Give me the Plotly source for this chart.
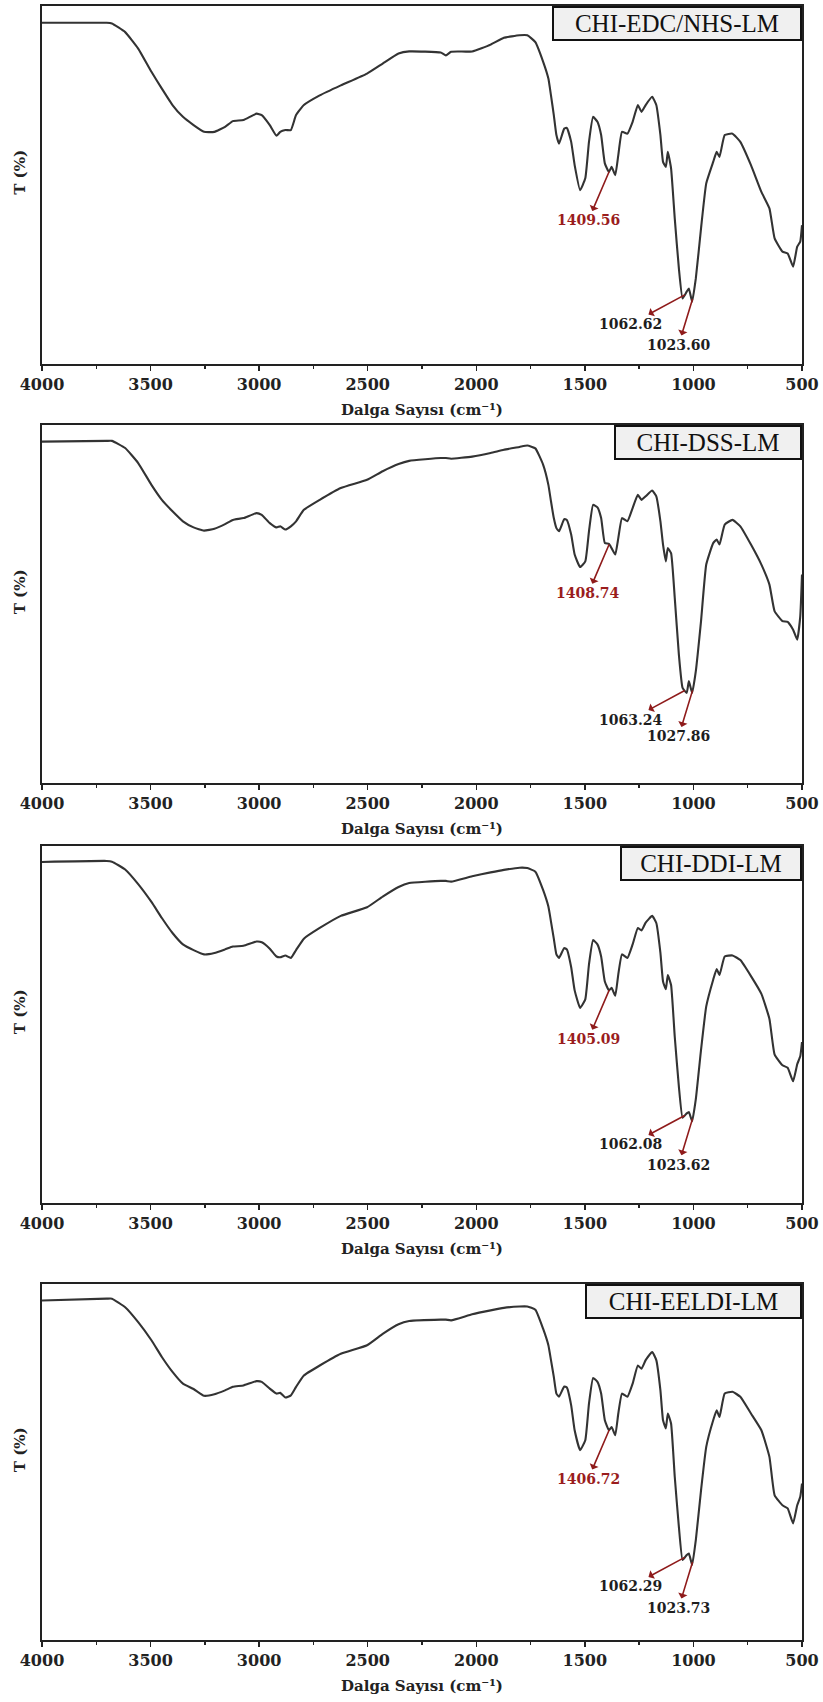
import numpy as np
import plotly.graph_objects as go

# ---------------- data ----------------
wavenumber = [4000, 3702, 3678, 3617, 3557, 3496, 3448, 3399, 3351, 3302, 3254, 3206, 3157, 3121,
              3072, 3012, 2988, 2951, 2920, 2903, 2879, 2854, 2830, 2794, 2721, 2624, 2503, 2431,
              2358, 2309, 2164, 2140, 2116, 2019, 1934, 1873, 1801, 1765, 1728, 1692, 1668, 1656,
              1643, 1631, 1619, 1595, 1583, 1563, 1547, 1522, 1498, 1481, 1462, 1442, 1425, 1408,
              1389, 1377, 1360, 1346, 1329, 1304, 1280, 1256, 1239, 1220, 1190, 1171, 1152, 1140,
              1127, 1118, 1103, 1086, 1067, 1050, 1031, 1021, 1006, 989, 965, 941, 909, 893, 880,
              856, 820, 784, 735, 687, 650, 626, 590, 566, 541, 522, 508, 500]

t_edc_nhs = [95.3, 95.3, 95.1, 92.7, 88.1, 81.6, 76.9, 72.3, 69.0, 66.7, 64.8, 64.8, 66.2, 67.8,
             68.1, 69.9, 69.5, 66.7, 63.7, 64.8, 65.3, 65.3, 69.5, 72.3, 75.0, 77.8, 81.1, 83.9,
             86.7, 87.3, 87.0, 86.2, 87.2, 87.3, 89.2, 91.1, 91.8, 91.8, 89.9, 84.4, 79.7, 75.0,
             69.5, 63.9, 61.5, 65.7, 65.9, 62.0, 55.5, 48.5, 51.8, 62.0, 69.0, 67.6, 63.9, 56.0,
             53.6, 55.0, 52.7, 58.3, 64.8, 64.3, 67.6, 72.3, 70.4, 72.3, 74.6, 72.3, 63.9, 56.4,
             55.0, 59.2, 54.6, 40.6, 26.6, 18.2, 20.1, 21.0, 17.3, 23.8, 37.8, 50.4, 56.4, 59.2,
             57.8, 63.9, 64.3, 62.0, 55.5, 48.0, 43.4, 35.0, 31.3, 30.8, 27.1, 32.7, 34.1, 38.7]

t_dss = [95.5, 95.7, 95.7, 93.7, 89.5, 83.4, 79.2, 76.0, 73.2, 71.5, 70.6, 71.1, 72.4, 73.6,
         74.1, 75.5, 75.0, 72.7, 71.5, 71.8, 70.9, 71.8, 73.2, 76.4, 79.2, 82.5, 84.8, 87.2,
         89.2, 90.1, 90.9, 90.9, 90.7, 91.3, 92.3, 93.2, 94.0, 94.4, 93.6, 89.0, 83.4, 78.8,
         74.1, 71.3, 70.4, 73.8, 73.6, 69.5, 63.9, 60.4, 62.0, 70.4, 77.8, 77.1, 74.1, 67.1,
         66.9, 65.7, 63.9, 68.5, 74.1, 73.2, 76.9, 80.6, 79.2, 80.2, 81.8, 80.2, 73.2, 66.7,
         62.0, 65.7, 64.3, 51.8, 35.9, 26.6, 25.2, 28.5, 25.2, 31.3, 45.3, 61.1, 67.1, 68.1,
         66.7, 72.3, 73.6, 71.8, 66.7, 61.1, 55.5, 48.0, 45.3, 45.1, 42.9, 40.1, 46.6, 58.3]

t_ddi = [95.5, 95.8, 95.6, 93.4, 89.3, 84.3, 79.8, 75.6, 72.4, 70.8, 69.6, 70.0, 71.0, 71.8,
         72.0, 73.2, 73.0, 71.2, 69.0, 68.8, 69.3, 68.6, 70.8, 74.0, 77.0, 80.4, 82.8, 85.8,
         88.5, 89.6, 90.2, 90.2, 90.0, 91.5, 92.6, 93.3, 93.9, 93.8, 92.8, 87.6, 83.0, 78.8,
         74.0, 69.6, 68.6, 71.4, 71.0, 66.0, 59.5, 54.6, 57.0, 66.8, 73.6, 72.4, 69.0, 62.0,
         59.5, 60.2, 58.0, 64.0, 69.6, 68.6, 72.4, 77.0, 76.3, 78.5, 80.4, 78.4, 70.0, 62.0,
         59.8, 63.8, 61.0, 46.5, 32.5, 23.8, 25.0, 25.4, 22.8, 29.0, 42.8, 55.0, 62.5, 65.5,
         63.8, 69.0, 69.3, 68.0, 63.5, 58.5, 51.5, 41.5, 38.5, 37.8, 34.0, 38.8, 41.0, 45.0]

t_eeldi = [95.5, 96.0, 96.0, 93.6, 89.4, 84.3, 79.6, 75.4, 72.1, 70.6, 68.7, 69.1, 70.2, 71.2,
           71.6, 72.8, 72.6, 70.7, 69.3, 69.5, 68.2, 68.8, 71.2, 74.4, 77.2, 80.5, 82.9, 86.1,
           88.8, 89.7, 90.1, 90.1, 89.9, 91.6, 92.7, 93.4, 93.8, 93.8, 92.9, 87.5, 82.9, 78.7,
           74.0, 69.3, 68.4, 71.3, 71.0, 66.0, 59.0, 53.4, 56.2, 66.5, 73.7, 72.6, 69.3, 61.8,
           59.0, 59.9, 57.6, 63.7, 69.3, 68.4, 72.1, 77.2, 76.3, 78.7, 81.0, 78.7, 70.2, 61.8,
           59.5, 63.7, 60.9, 45.9, 31.8, 22.5, 23.9, 24.3, 21.1, 28.1, 42.1, 54.3, 61.8, 64.6,
           62.7, 69.3, 69.8, 68.4, 63.7, 59.0, 51.5, 40.7, 37.9, 37.0, 32.8, 37.9, 40.3, 44.0]

sample_names = ["CHI-EDC/NHS-LM", "CHI-DSS-LM", "CHI-DDI-LM", "CHI-EELDI-LM"]
series = [t_edc_nhs, t_dss, t_ddi, t_eeldi]

peak_labels = [["1409.56", "1062.62", "1023.60"],
               ["1408.74", "1063.24", "1027.86"],
               ["1405.09", "1062.08", "1023.62"],
               ["1406.72", "1062.29", "1023.73"]]
# wavenumbers where each arrow touches the curve (as drawn)
arrow_wavenumbers = [[1388, 1040, 1004],
                     [1388, 1040, 1004],
                     [1388, 1040, 1004],
                     [1388, 1040, 1004]]

x_tick_values = [4000, 3500, 3000, 2500, 2000, 1500, 1000, 500]
x_tick_labels = ["4000", "3500", "3000", "2500", "2000", "1500", "1000", "500"]
x_title = "Dalga Sayısı (cm⁻¹)"
y_title = "T (%)"

# ---------------- layout / style ----------------
W, H = 823, 1702
PLOT_L, PLOT_R = 42, 803
panel_px = [(4, 362), (424, 782), (845, 1202), (1284, 1640)]   # top, bottom in px
TOP, BOT = 4, 1640
box_widths = [250, 188, 182, 217]
label_offsets = [(-21, 49), (-54, 29), (-14, 46)]
label_colors = ["#9a1d1d", "#1e1e1e", "#1e1e1e"]
ARROW_COLOR = "#8f1b1b"
LINE_COLOR = "#333333"
SERIF = "DejaVu Serif"
BOX_SERIF = "Liberation Serif"

fig = go.Figure()
annotations = []

for i, (name, vals) in enumerate(zip(sample_names, series)):
    top, bot = panel_px[i]
    dom = [(BOT - bot) / (BOT - TOP), (BOT - top) / (BOT - TOP)]
    xa = "xaxis" if i == 0 else f"xaxis{i+1}"
    ya = "yaxis" if i == 0 else f"yaxis{i+1}"
    xr = "x" if i == 0 else f"x{i+1}"
    yr = "y" if i == 0 else f"y{i+1}"

    fig.add_trace(go.Scatter(x=wavenumber, y=vals, mode="lines", xaxis=xr, yaxis=yr,
                             line=dict(color=LINE_COLOR, width=2.1, shape="spline", smoothing=0.4),
                             showlegend=False, hoverinfo="skip"))

    fig.update_layout(**{
        xa: dict(domain=[0, 1], anchor=yr, range=[4000, 500], tickmode="array",
                 tickvals=x_tick_values, ticktext=x_tick_labels,
                 ticks="outside", ticklen=5, tickwidth=1.5, tickcolor="#222",
                 minor=dict(ticks="outside", ticklen=3, tickwidth=1.5, dtick=250, tickcolor="#222"),
                 showline=True, linewidth=2, linecolor="#222", mirror=True,
                 showgrid=False, zeroline=False,
                 tickfont=dict(family=SERIF, size=16, color="#222", weight="bold")),
        ya: dict(domain=dom, anchor=xr, range=[0, 100], showticklabels=False, ticks="",
                 showline=True, linewidth=2, linecolor="#222", mirror=True,
                 showgrid=False, zeroline=False),
    })

    # sample name box
    annotations.append(dict(xref=f"{xr} domain", yref=f"{yr} domain", x=1, y=1,
                            xanchor="right", yanchor="top", showarrow=False,
                            text=name, width=box_widths[i] - 8, borderpad=2,
                            bgcolor="#f0f0f0", bordercolor="#111", borderwidth=2,
                            font=dict(family=BOX_SERIF, size=25, color="#111")))
    # axis titles
    annotations.append(dict(xref=f"{xr} domain", yref=f"{yr} domain", x=0.5, y=0,
                            xanchor="center", yanchor="middle", yshift=-46, showarrow=False,
                            text=x_title,
                            font=dict(family=SERIF, size=15, color="#222", weight="bold")))
    annotations.append(dict(xref=f"{xr} domain", yref=f"{yr} domain", x=0, y=0.5,
                            xanchor="center", yanchor="middle", xshift=-22, yshift=12,
                            textangle=-90, showarrow=False, text=y_title,
                            font=dict(family=SERIF, size=15, color="#222", weight="bold")))
    # peak arrows + labels
    wn_inc = wavenumber[::-1]
    val_inc = vals[::-1]
    for j, (lab, awn) in enumerate(zip(peak_labels[i], arrow_wavenumbers[i])):
        yv = float(np.interp(awn, wn_inc, val_inc))
        axp, ayp = label_offsets[j]
        annotations.append(dict(xref=xr, yref=yr, x=awn, y=yv, ax=axp, ay=ayp,
                                axref="pixel", ayref="pixel",
                                showarrow=True, arrowside="start", arrowhead=2,
                                arrowsize=1.1, arrowwidth=1.6, arrowcolor=ARROW_COLOR,
                                text=lab,
                                font=dict(family=SERIF, size=14, color=label_colors[j],
                                          weight="bold")))

fig.update_layout(width=W, height=H, margin=dict(l=PLOT_L, r=W - PLOT_R, t=TOP, b=H - BOT),
                  paper_bgcolor="white", plot_bgcolor="white", annotations=annotations,
                  showlegend=False)

fig.write_html("out.html", config={"displayModeBar": False, "staticPlot": True},
               post_script="document.body.style.margin='0';document.body.style.overflow='hidden';")
